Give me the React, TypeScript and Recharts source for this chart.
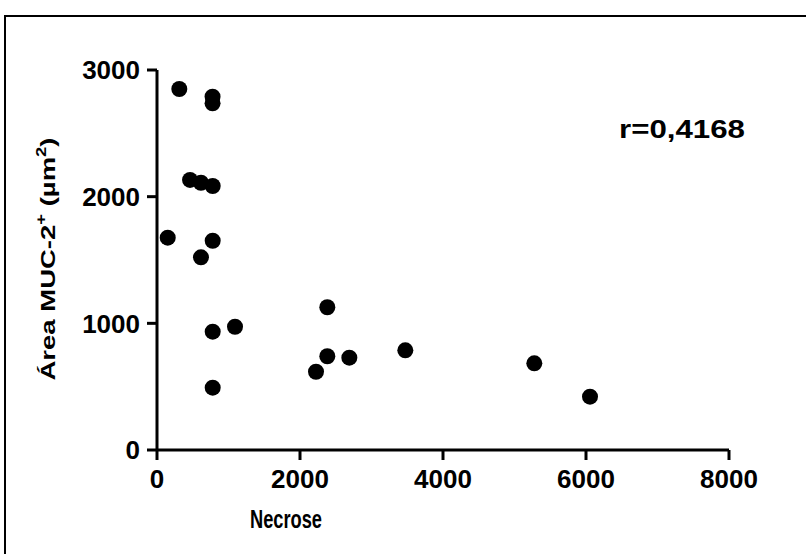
import React from 'react';
import { ScatterChart, Scatter, XAxis, YAxis, Label } from 'recharts';

const necrose = [150, 312, 462, 615, 779, 777, 777, 779, 615, 779, 1091, 779, 2224, 2382, 2382, 2690, 3473, 5277, 6056];
const areaMuc = [1676, 2850, 2132, 2110, 2084, 2789, 2737, 1652, 1521, 934, 973, 492, 618, 740, 1127, 729, 787, 684, 421];
const xTicks = [0, 2000, 4000, 6000, 8000];
const yTicks = [0, 1000, 2000, 3000];
const rText = 'r=0,4168';

const points = necrose.map((x, i) => ({ x, y: areaMuc[i] }));

const FONT = '"Liberation Sans", Arial, Helvetica, sans-serif';

const Dot = (props: any) => <circle cx={props.cx} cy={props.cy} r={8} fill="#000" />;

export default function App() {
    const tickStyle = { fontSize: 26, fontWeight: 'bold', fill: '#000', fontFamily: FONT };
    const lineStyle = { stroke: '#000', strokeWidth: 3 };
    return (
        <div style={{ position: 'fixed', left: 0, top: 0, width: 806, height: 554, overflow: 'hidden', background: '#fff' }}>
            {/* outer frame */}
            <div style={{ position: 'absolute', left: 4, top: 15, width: 900, height: 700, border: '2px solid #000' }} />
            <div style={{ position: 'absolute', left: 0, top: 0 }}>
                <ScatterChart width={806} height={554} margin={{ top: 70, right: 77, left: 0, bottom: 0 }}>
                    <XAxis
                        type="number"
                        dataKey="x"
                        domain={[0, 8000]}
                        ticks={xTicks}
                        interval={0}
                        height={104}
                        tickSize={10}
                        tickMargin={10}
                        axisLine={lineStyle}
                        tickLine={lineStyle}
                        tick={tickStyle}
                    >
                        <Label
                            content={() => (
                                <text x={286} y={528} textAnchor="middle" fontFamily={FONT} fontWeight="bold" fontSize={25}
                                    textLength={72} lengthAdjust="spacingAndGlyphs" fill="#000">
                                    Necrose
                                </text>
                            )}
                        />
                    </XAxis>
                    <YAxis
                        type="number"
                        dataKey="y"
                        domain={[0, 3000]}
                        ticks={yTicks}
                        interval={0}
                        width={157}
                        tickSize={10}
                        tickMargin={7}
                        axisLine={lineStyle}
                        tickLine={lineStyle}
                        tick={tickStyle}
                    >
                        <Label
                            content={() => (
                                <text x={55} y={259} transform="rotate(-90, 55, 259)" textAnchor="middle" fontFamily={FONT}
                                    fontWeight="bold" fontSize={21} fill="#000" textLength={243} lengthAdjust="spacingAndGlyphs">
                                    <tspan>Área MUC-2</tspan>
                                    <tspan dy={-9} fontSize={14}>+</tspan>
                                    <tspan dy={9}> (µm</tspan>
                                    <tspan dy={-9} fontSize={14}>2</tspan>
                                    <tspan dy={9}>)</tspan>
                                </text>
                            )}
                        />
                    </YAxis>
                    <Scatter data={points} fill="#000" shape={Dot} isAnimationActive={false} />
                </ScatterChart>
            </div>
            <div style={{ position: 'absolute', left: 0, top: 0 }}>
                <svg width={806} height={554}>
                    <text x={619} y={138} fontFamily={FONT} fontWeight="bold" fontSize={25} textLength={126}
                        lengthAdjust="spacingAndGlyphs" fill="#000">
                        {rText}
                    </text>
                </svg>
            </div>
        </div>
    );
}
